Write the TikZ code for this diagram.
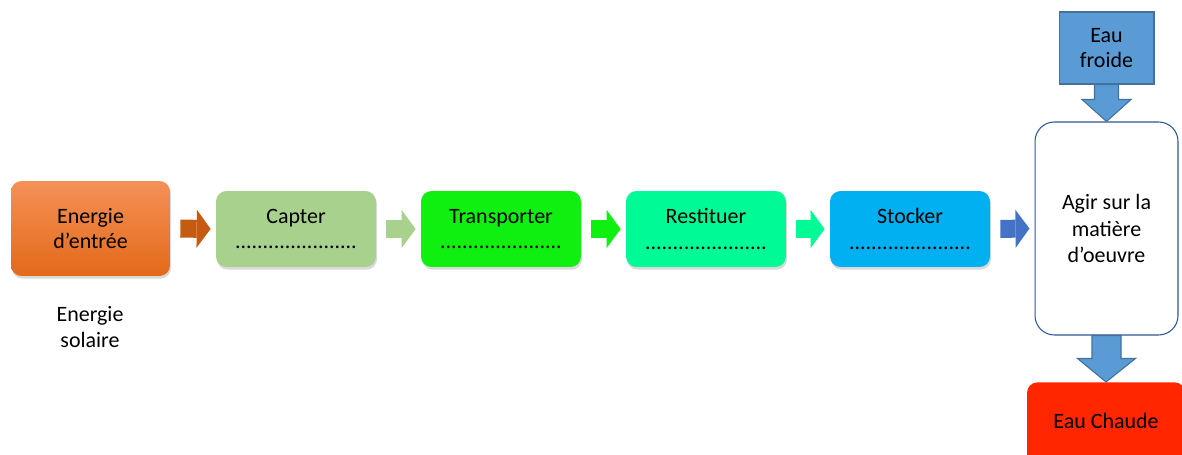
\documentclass[tikz,border=0pt]{standalone}
\usepackage{fontspec}
\setmainfont{Carlito}
\usetikzlibrary{arrows.meta, calc, shadows}
\definecolor{inorange}{RGB}{197, 90, 17}
\definecolor{inorangetop}{RGB}{244, 145, 88}
\definecolor{inorangebot}{RGB}{227, 105, 24}
\definecolor{captgreen}{RGB}{169, 209, 142}
\definecolor{transgreen}{RGB}{16, 240, 16}
\definecolor{restgreen}{RGB}{0, 250, 150}
\definecolor{stockblue}{RGB}{0, 176, 240}
\definecolor{actblue}{RGB}{68, 114, 196}
\definecolor{agirline}{RGB}{47, 85, 151}
\definecolor{waterblue}{RGB}{91, 155, 213}
\definecolor{waterline}{RGB}{65, 113, 156}
\definecolor{hotred}{RGB}{255, 38, 0}

\begin{document}
\begin{tikzpicture}[
  x=0.02cm, y=-0.02cm,
  every node/.style={font=\fontsize{12.5}{14.5}\selectfont, align=center},
  stepbox/.style={rounded corners=6pt, minimum width=3.2cm, minimum height=1.52cm, inner sep=0pt, drop shadow={opacity=0.3, shadow xshift=0.6pt, shadow yshift=-1.5pt}},
  flowarr/.style={line width=0.36cm, -{Triangle[length=0.28cm, width=0.76cm, line width=0pt]}, shorten <=0.2cm, shorten >=0.1cm},
  waterarr/.style={draw=waterline, fill=waterblue, line width=0.6pt}
]
  \useasboundingbox (0,0) rectangle (1182,455);
  \clip (0,0) rectangle (1182,455);

  \node[stepbox, top color=inorangetop, bottom color=inorangebot, minimum width=3.18cm, minimum height=1.9cm] (entree) at (90.5,228.5) {Energie\\d’entrée};
  \node (solaire) at (90,327) {Energie\\solaire};
  \node[stepbox, fill=captgreen] (capter) at (296,229) {Capter\\......................};
  \node[stepbox, fill=transgreen] (transp) at (501,229) {Transporter\\......................};
  \node[stepbox, fill=restgreen] (restit) at (706,229) {Restituer\\......................};
  \node[stepbox, fill=stockblue] (stocker) at (910,229) {Stocker\\......................};

  \node[draw=agirline, fill=white, line width=0.6pt, rounded corners=11pt, minimum width=2.86cm, minimum height=4.26cm, inner sep=0pt, font=\fontsize{12.5}{15}\selectfont] (agir) at (1106.5,228.5) {Agir sur la\\matière\\d’oeuvre};
  \node[draw=waterline, fill=waterblue, line width=0.6pt, minimum width=1.9cm, minimum height=1.44cm, inner sep=0pt] (froid) at (1106.5,48) {Eau\\froide};
  \node[stepbox, fill=hotred, minimum width=3.16cm, minimum height=2cm, text depth=0.44cm, anchor=north] (chaude) at (1106,382) {Eau Chaude};

  \draw[flowarr, inorange] (entree.east) -- (capter.west);
  \draw[flowarr, captgreen] (capter.east) -- (transp.west);
  \draw[flowarr, transgreen] (transp.east) -- (restit.west);
  \draw[flowarr, restgreen] (restit.east) -- (stocker.west);
  \draw[flowarr, actblue] (stocker.east) -- (agir.west);

  \draw[waterarr] ($(froid.south)+(-12,0)$) -- ++(0,15) -- ++(-12.5,0) -- (agir.north)
    -- ($(froid.south)+(24.5,15)$) -- ++(-12.5,0) -- ++(0,-15) -- cycle;
  \draw[waterarr] ($(agir.south)+(-14.5,0)$) -- ++(0,23) -- ++(-14.5,0) -- (chaude.north)
    -- ($(agir.south)+(29,23)$) -- ++(-14.5,0) -- ++(0,-23) -- cycle;
\end{tikzpicture}
\end{document}
